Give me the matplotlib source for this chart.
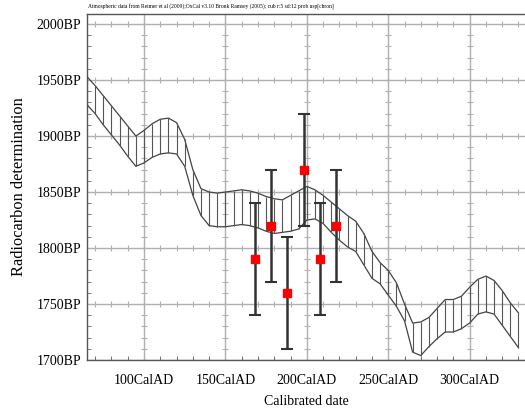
import numpy as np
import matplotlib
matplotlib.use("Agg")
import matplotlib.pyplot as plt

# calibration curve band (upper / lower), every 5 years
years = list(range(65, 335, 5))
upper = [1953, 1945, 1936, 1927, 1918, 1909, 1900, 1905, 1911, 1915, 1916, 1912,
         1897, 1870, 1853, 1850, 1849, 1850, 1851, 1852, 1851, 1849, 1846, 1844,
         1843, 1847, 1851, 1855, 1852, 1847, 1841, 1835, 1829, 1824, 1813, 1797,
         1787, 1780, 1769, 1750, 1733, 1734, 1738, 1746, 1754, 1754, 1757, 1765,
         1772, 1775, 1771, 1762, 1751, 1742]
lower = [1928, 1920, 1910, 1901, 1892, 1882, 1873, 1876, 1881, 1884, 1885, 1884,
         1873, 1847, 1829, 1820, 1819, 1819, 1820, 1821, 1820, 1818, 1815, 1813,
         1814, 1815, 1817, 1825, 1826, 1822, 1814, 1807, 1801, 1797, 1785, 1773,
         1768, 1758, 1748, 1735, 1707, 1704, 1712, 1719, 1725, 1725, 1728, 1733,
         1741, 1743, 1741, 1731, 1721, 1711]

# radiocarbon determinations
dates = [168, 178, 188, 198, 208, 218]
bp = [1790, 1820, 1760, 1870, 1790, 1820]
err = [50, 50, 50, 50, 50, 50]

xticks = [100, 150, 200, 250, 300]
xlabels = ["100CalAD", "150CalAD", "200CalAD", "250CalAD", "300CalAD"]
yticks = [1700, 1750, 1800, 1850, 1900, 1950, 2000]
ylabels = ["1700BP", "1750BP", "1800BP", "1850BP", "1900BP", "1950BP", "2000BP"]

plt.rcParams['font.family'] = ['Liberation Serif', 'DejaVu Serif']

fig = plt.figure(figsize=(5.25, 4.12), dpi=100)
ax = fig.add_axes([87/525, 52/412, (525-87)/525, (360-14)/412])
ax.set_xlim(65, 334)
ax.set_ylim(1700, 2009)

gc = '#b0b0b0'
for x in xticks:
    ax.axvline(x, color=gc, lw=1, zorder=1)
    ax.plot([x]*31, np.arange(1700, 2010, 10), ls='none', marker='_', ms=5, mew=0.8, color=gc, zorder=1)
for y in yticks:
    ax.axhline(y, color=gc, lw=1, zorder=1)
    ax.plot(np.arange(70, 335, 10), [y]*27, ls='none', marker='|', ms=5, mew=0.8, color=gc, zorder=1)

# band
ax.plot(years, upper, color='#444444', lw=0.9, zorder=3)
ax.plot(years, lower, color='#444444', lw=0.9, zorder=3)
ax.vlines(years, lower, upper, color='#555555', lw=0.8, zorder=3)

ax.errorbar(dates, bp, yerr=err, fmt='none', ecolor='#333333', elinewidth=1.8,
            capsize=4, capthick=1.5, zorder=4)
ax.plot(dates, bp, ls='none', marker='s', ms=5.8, color='#ff0000', mec='#ff0000', zorder=5)

ax.set_xticks(xticks)
ax.set_xticklabels(xlabels)
ax.set_yticks(yticks)
ax.set_yticklabels(ylabels)
ax.set_xticks(np.arange(70, 335, 10), minor=True)
ax.set_yticks(np.arange(1710, 2009, 10), minor=True)
ax.tick_params(which='both', direction='in', colors='#666666', labelcolor='black', labelsize=10)
ax.tick_params(which='major', length=0, pad=4)
ax.tick_params(axis='x', which='major', pad=10)
ax.tick_params(which='minor', length=3)

ax.spines['right'].set_visible(False)
for s in ['left', 'bottom', 'top']:
    ax.spines[s].set_color('#555555')
    ax.spines[s].set_linewidth(1)

ax.set_xlabel("Calibrated date", fontsize=10, labelpad=6)
ax.set_ylabel("Radiocarbon determination", fontsize=11.8, labelpad=7)

fig.text(88/525, 1 - 7/412, "Atmospheric data from Reimer et al (2009);OxCal v3.10 Bronk Ramsey (2005); cub r:5 sd:12 prob usp[chron]",
         fontsize=4.0, va='center', ha='left')

fig.savefig("out.png", dpi=100)
